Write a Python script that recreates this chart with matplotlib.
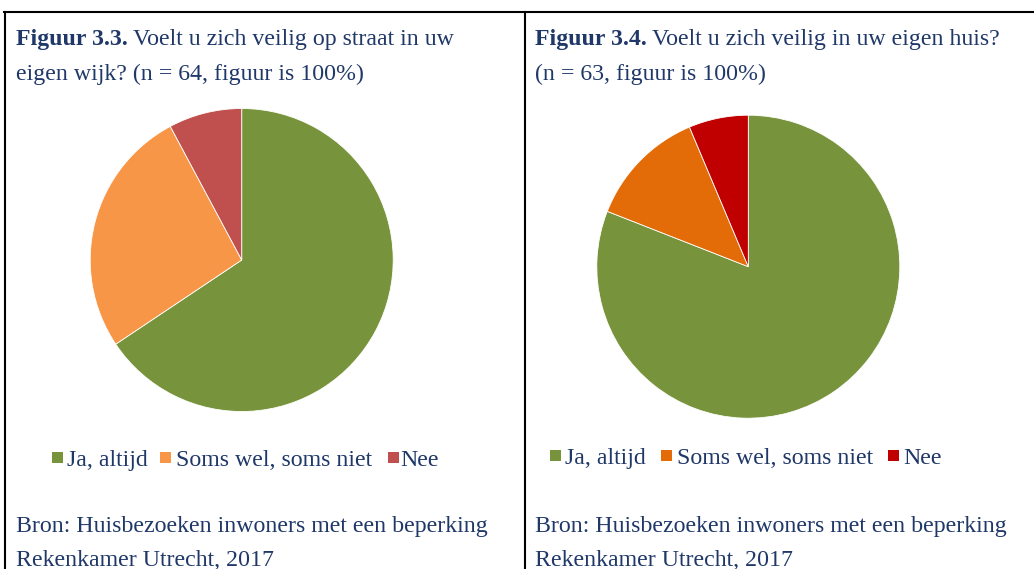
import matplotlib.pyplot as plt
from matplotlib.lines import Line2D
from matplotlib.patches import Rectangle

labels = ['Ja, altijd', 'Soms wel, soms niet', 'Nee']
wijk_values = [42, 17, 5]     # n = 64
huis_values = [51, 8, 4]      # n = 63
wijk_colors = ['#77933C', '#F79646', '#C0504D']
huis_colors = ['#77933C', '#E36C09', '#C00000']

W, H = 1034, 569
TXT = '#1F3868'
FONT = 'Liberation Serif'
FS = 17.2

fig = plt.figure(figsize=(W / 100, H / 100), dpi=100)
fig.patch.set_facecolor('white')


def px_axes(cx, cy, r):
    # axes square around a pie centre given in pixels from top-left
    return fig.add_axes([(cx - r) / W, (H - cy - r) / H, 2 * r / W, 2 * r / H])


def draw_pie(cx, cy, values, colors):
    ax = px_axes(cx, cy, 151.5)
    ax.pie(values, colors=colors, startangle=90, counterclock=False,
           wedgeprops=dict(linewidth=0.6, edgecolor='white'))
    ax.set_xlim(-1, 1)
    ax.set_ylim(-1, 1)
    ax.set_aspect('equal')
    ax.axis('off')


draw_pie(241.7, 260, wijk_values, wijk_colors)
draw_pie(748.3, 266.7, huis_values, huis_colors)


def text_px(x, y, s, size=FS, **kw):
    fig.text(x / W, 1 - y / H, s, fontsize=size, family=FONT, color=TXT,
             va='baseline', ha='left', **kw)


def title(x, y, bold, rest):
    t = fig.text(x / W, 1 - y / H, bold, fontsize=FS, family=FONT, color=TXT,
                 weight='bold', va='baseline', ha='left')
    fig.canvas.draw()
    bb = t.get_window_extent()
    fig.text((bb.x1 + 5) / W, 1 - y / H, rest, fontsize=FS, family=FONT,
             color=TXT, va='baseline', ha='left')


title(16, 45, 'Figuur 3.3.', 'Voelt u zich veilig op straat in uw')
text_px(16, 80, 'eigen wijk? (n = 64, figuur is 100%)')
title(535, 45, 'Figuur 3.4.', 'Voelt u zich veilig in uw eigen huis?')
text_px(535, 80, '(n = 63, figuur is 100%)')


def legend(items, y):
    # y = baseline of the legend text
    for mx, tx, col, lab in items:
        fig.patches.append(Rectangle((mx / W, 1 - (y - 3.5) / H), 11 / W, 11 / H,
                                     transform=fig.transFigure,
                                     facecolor=col, edgecolor='none'))
        fig.text(tx / W, 1 - y / H, lab, fontsize=FS, family=FONT,
                 color=TXT, va='baseline', ha='left')


legend([(52, 67, wijk_colors[0], labels[0]),
        (160, 176, wijk_colors[1], labels[1]),
        (387.5, 400, wijk_colors[2], labels[2])], 466)
legend([(550, 565, huis_colors[0], labels[0]),
        (661, 677, huis_colors[1], labels[1]),
        (888, 903, huis_colors[2], labels[2])], 464)

for x in (16, 535):
    text_px(x, 532, 'Bron: Huisbezoeken inwoners met een beperking')
    text_px(x, 566, 'Rekenkamer Utrecht, 2017')

# table borders
for xs, ys in [((4 / W, 1), (1 - 11.5 / H,) * 2),
               ((4.5 / W,) * 2, (1 - 11.5 / H, 0)),
               ((525 / W,) * 2, (1 - 11.5 / H, 0))]:
    fig.lines.append(Line2D(xs, ys, transform=fig.transFigure,
                            color='black', linewidth=1.5))

fig.savefig('out.png', dpi=100)
